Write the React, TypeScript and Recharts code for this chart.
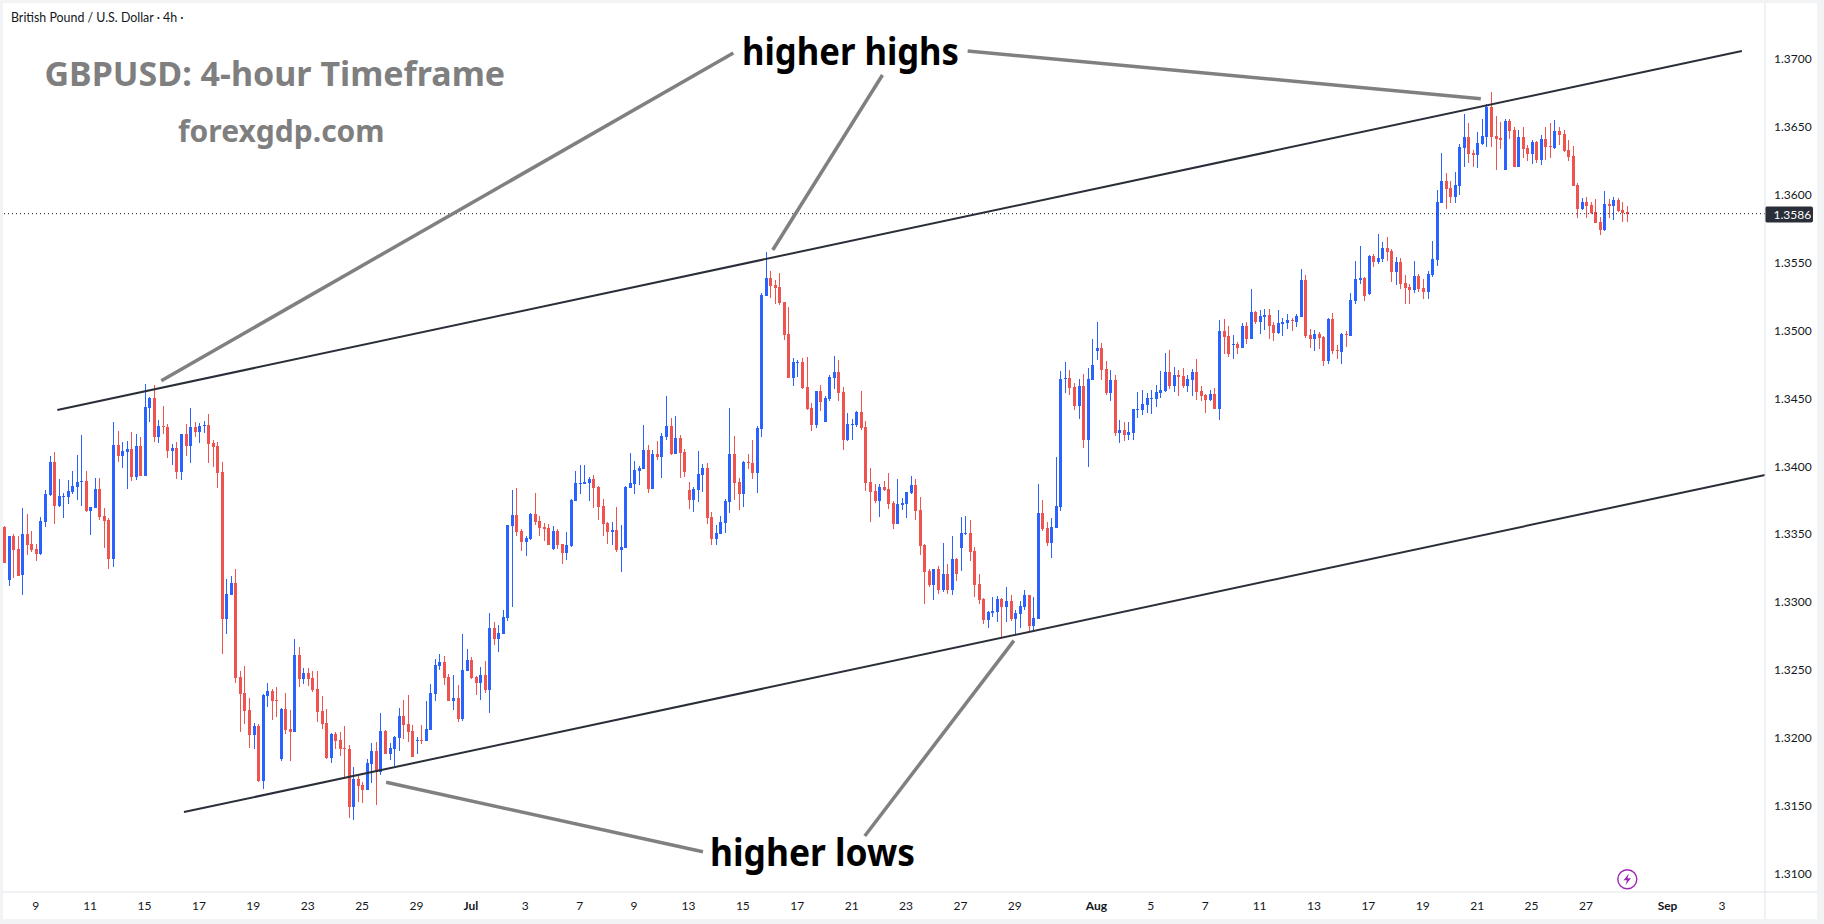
import { Bar, ComposedChart, ReferenceLine, XAxis, YAxis } from 'recharts'

const opens = [
  1.33558, 1.33166, 1.33489, 1.33394, 1.33203, 1.33504, 1.33431, 1.33394, 1.33357, 1.33592,
  1.33791, 1.34034, 1.3371, 1.33776, 1.33776, 1.33813, 1.3385, 1.33889, 1.33894, 1.33673,
  1.33695, 1.33835, 1.33637, 1.33607, 1.3332, 1.34159, 1.34078, 1.34107, 1.34129, 1.33923,
  1.34152, 1.33931, 1.34431, 1.34505, 1.34218, 1.34299, 1.34291, 1.34115, 1.34137, 1.3396,
  1.3424, 1.34152, 1.34291, 1.34254, 1.34299, 1.34306, 1.34174, 1.34152, 1.3396, 1.32879,
  1.33055, 1.33144, 1.32452, 1.32335, 1.3221, 1.32026, 1.32092, 1.31687, 1.32313, 1.32349,
  1.32283, 1.31849, 1.32217, 1.3207, 1.32048, 1.32614, 1.32438, 1.32482, 1.32445, 1.32364,
  1.32202, 1.32114, 1.31856, 1.32033, 1.31989, 1.3193, 1.31923, 1.31496, 1.31702, 1.31658,
  1.31621, 1.31812, 1.31908, 1.31753, 1.32055, 1.31886, 1.31923, 1.32004, 1.32165, 1.32107,
  1.32055, 1.31982, 1.31989, 1.31982, 1.32062, 1.32327, 1.32533, 1.32563, 1.32452, 1.32278,
  1.32297, 1.32143, 1.32496, 1.32577, 1.32452, 1.32408, 1.32467, 1.32356, 1.32812, 1.32731,
  1.32768, 1.32886, 1.33563, 1.33644, 1.33526, 1.33445, 1.33465, 1.33651, 1.33599, 1.33555,
  1.33548, 1.33393, 1.33526, 1.3343, 1.33364, 1.33416, 1.33747, 1.33872, 1.33872, 1.33879,
  1.33908, 1.3385, 1.3371, 1.33585, 1.33519, 1.33533, 1.33386, 1.33401, 1.33842, 1.33872,
  1.33967, 1.33982, 1.34122, 1.33835, 1.34092, 1.3407, 1.34217, 1.34298, 1.34092, 1.3421,
  1.34107, 1.33827, 1.33754, 1.33827, 1.33938, 1.33989, 1.33629, 1.33467, 1.33504, 1.33585,
  1.33739, 1.34092, 1.33886, 1.33798, 1.34033, 1.34026, 1.33952, 1.34276, 1.35255, 1.35387,
  1.35335, 1.35321, 1.3521, 1.34975, 1.34651, 1.34762, 1.34769, 1.34585, 1.34431, 1.34306,
  1.34556, 1.34328, 1.34497, 1.34651, 1.34695, 1.34548, 1.34195, 1.34306, 1.34306, 1.34401,
  1.34291, 1.33886, 1.3382, 1.33747, 1.3385, 1.33835, 1.33732, 1.33577, 1.33717, 1.33724,
  1.33805, 1.33864, 1.3368, 1.33423, 1.33232, 1.33129, 1.33246, 1.33092, 1.3321, 1.33092,
  1.3332, 1.33401, 1.33504, 1.33511, 1.33379, 1.33136, 1.33026, 1.32871, 1.32923, 1.3293,
  1.33026, 1.32967, 1.33011, 1.32878, 1.32915, 1.32967, 1.33055, 1.32827, 1.32878, 1.33658,
  1.33548, 1.33438, 1.33548, 1.33702, 1.34644, 1.34651, 1.34585, 1.34445, 1.34592, 1.34195,
  1.34637, 1.3485, 1.34872, 1.34718, 1.34541, 1.34637, 1.34247, 1.34269, 1.34232, 1.34247,
  1.34416, 1.34416, 1.34453, 1.34497, 1.34497, 1.34541, 1.34556, 1.34695, 1.34592, 1.34673,
  1.34666, 1.34592, 1.34637, 1.34695, 1.34556, 1.34526, 1.34489, 1.34534, 1.34423, 1.34997,
  1.3496, 1.34894, 1.34901, 1.34872, 1.35034, 1.34938, 1.35137, 1.35063, 1.351, 1.35115,
  1.35041, 1.34982, 1.35049, 1.35056, 1.35078, 1.35063, 1.351, 1.35372, 1.34968, 1.34938,
  1.34975, 1.34953, 1.34776, 1.35085, 1.34857, 1.34843, 1.34975, 1.34961, 1.35218, 1.35373,
  1.35388, 1.3527, 1.35549, 1.35505, 1.35527, 1.35608, 1.35586, 1.35432, 1.35505, 1.35351,
  1.35321, 1.35299, 1.35402, 1.35314, 1.35284, 1.3541, 1.3552, 1.35939, 1.36101, 1.3605,
  1.35983, 1.36064, 1.36344, 1.36425, 1.36307, 1.36292, 1.36373, 1.36425, 1.36645, 1.36432,
  1.36417, 1.36182, 1.36542, 1.36476, 1.36204, 1.36425, 1.36344, 1.363, 1.36388, 1.36256,
  1.3641, 1.36359, 1.36344, 1.36469, 1.36447, 1.36329, 1.36285, 1.36072, 1.35895, 1.35947,
  1.35924, 1.35873, 1.35799, 1.35741, 1.35932, 1.35917, 1.35961, 1.35888, 1.35873,
]

const closes = [
  1.33293, 1.33489, 1.33386, 1.33198, 1.33504, 1.33423, 1.33386, 1.33357, 1.336, 1.33798,
  1.34034, 1.3371, 1.33784, 1.33784, 1.3382, 1.33857, 1.33887, 1.33894, 1.33673, 1.33703,
  1.33835, 1.33629, 1.336, 1.3332, 1.34159, 1.34078, 1.34115, 1.34129, 1.33923, 1.34152,
  1.33931, 1.34438, 1.34505, 1.34218, 1.34299, 1.34291, 1.34115, 1.34137, 1.3396, 1.3424,
  1.34152, 1.34291, 1.34254, 1.34299, 1.34306, 1.34166, 1.34144, 1.33953, 1.32879, 1.33063,
  1.33144, 1.32445, 1.32327, 1.32202, 1.32026, 1.32092, 1.31687, 1.3232, 1.32349, 1.32276,
  1.32276, 1.32217, 1.32062, 1.32048, 1.32614, 1.32438, 1.32482, 1.32438, 1.32357, 1.32195,
  1.32107, 1.31856, 1.32033, 1.31982, 1.31923, 1.31923, 1.31496, 1.31702, 1.3165, 1.31621,
  1.3182, 1.31908, 1.31753, 1.32055, 1.31886, 1.3193, 1.32011, 1.32165, 1.32099, 1.32048,
  1.31864, 1.31989, 1.31982, 1.3207, 1.32335, 1.32541, 1.32563, 1.32445, 1.32276, 1.32297,
  1.32143, 1.32503, 1.32577, 1.32442, 1.32408, 1.32467, 1.32356, 1.32812, 1.32731, 1.32776,
  1.32893, 1.3357, 1.33644, 1.33518, 1.33445, 1.33474, 1.33651, 1.33592, 1.33548, 1.3354,
  1.33423, 1.33526, 1.33423, 1.33364, 1.33423, 1.33754, 1.33879, 1.33879, 1.33884, 1.33908,
  1.33842, 1.33702, 1.33577, 1.33519, 1.33533, 1.33386, 1.33408, 1.3385, 1.33879, 1.33975,
  1.33989, 1.34122, 1.33835, 1.34092, 1.3407, 1.34225, 1.34298, 1.34092, 1.3421, 1.341,
  1.3396, 1.33754, 1.33835, 1.33945, 1.33989, 1.33621, 1.33467, 1.33511, 1.33592, 1.33747,
  1.34092, 1.33879, 1.33798, 1.34033, 1.34026, 1.33952, 1.34284, 1.35262, 1.35387, 1.35328,
  1.35313, 1.35203, 1.34968, 1.34651, 1.34769, 1.34769, 1.34578, 1.34423, 1.34306, 1.34556,
  1.34475, 1.34504, 1.34659, 1.34695, 1.34541, 1.34195, 1.34313, 1.34313, 1.34401, 1.34284,
  1.33879, 1.33813, 1.33747, 1.3385, 1.33827, 1.33724, 1.33577, 1.33724, 1.33729, 1.33813,
  1.33864, 1.33673, 1.33416, 1.33224, 1.33129, 1.33246, 1.33092, 1.3321, 1.33092, 1.3332,
  1.3321, 1.33511, 1.33511, 1.33371, 1.33129, 1.33018, 1.32871, 1.3293, 1.32937, 1.33026,
  1.32967, 1.33011, 1.32878, 1.32923, 1.32974, 1.33055, 1.32827, 1.32886, 1.33658, 1.3354,
  1.33438, 1.33555, 1.3371, 1.34644, 1.34651, 1.34578, 1.34445, 1.34592, 1.34195, 1.34644,
  1.34747, 1.34872, 1.3471, 1.34541, 1.34637, 1.34247, 1.34269, 1.34232, 1.34254, 1.34423,
  1.34423, 1.3446, 1.34504, 1.34504, 1.34548, 1.34563, 1.34695, 1.34592, 1.34673, 1.34659,
  1.34592, 1.34644, 1.34695, 1.34548, 1.34519, 1.34489, 1.34534, 1.34423, 1.34997, 1.34953,
  1.34828, 1.34901, 1.34872, 1.35034, 1.34938, 1.35137, 1.35063, 1.35107, 1.35115, 1.35034,
  1.34982, 1.35056, 1.35063, 1.35078, 1.35071, 1.35107, 1.35372, 1.3496, 1.34938, 1.34975,
  1.34946, 1.34776, 1.35085, 1.3485, 1.3485, 1.34975, 1.34968, 1.35226, 1.3538, 1.35388,
  1.35255, 1.35549, 1.35505, 1.35535, 1.35608, 1.35579, 1.35432, 1.35505, 1.35343, 1.35314,
  1.35299, 1.35402, 1.35307, 1.35284, 1.35417, 1.35527, 1.35947, 1.36101, 1.36042, 1.35983,
  1.36072, 1.36351, 1.36425, 1.363, 1.36292, 1.36381, 1.36432, 1.36645, 1.36425, 1.3641,
  1.36403, 1.36542, 1.36469, 1.36204, 1.36425, 1.36336, 1.363, 1.36388, 1.36256, 1.3641,
  1.36351, 1.36351, 1.36469, 1.36439, 1.36322, 1.36278, 1.36064, 1.35895, 1.35947, 1.35917,
  1.35866, 1.35792, 1.35741, 1.35932, 1.35917, 1.35961, 1.3588, 1.35866, 1.35856,
]

const highs = [
  1.33566, 1.33489, 1.33504, 1.33489, 1.33695, 1.33651, 1.33526, 1.33431, 1.33629, 1.33828,
  1.34078, 1.34107, 1.33909, 1.33806, 1.33901, 1.33968, 1.34085, 1.34232, 1.33968, 1.33703,
  1.33916, 1.33916, 1.33695, 1.33622, 1.34328, 1.34262, 1.34181, 1.34188, 1.34254, 1.3424,
  1.34218, 1.34608, 1.34512, 1.346, 1.34343, 1.34446, 1.34313, 1.34166, 1.34181, 1.3424,
  1.34313, 1.34431, 1.34328, 1.34321, 1.34335, 1.34387, 1.34196, 1.34181, 1.34034, 1.33173,
  1.33195, 1.33247, 1.32496, 1.32533, 1.32298, 1.32114, 1.32107, 1.32327, 1.32408, 1.32364,
  1.32379, 1.32224, 1.32335, 1.3221, 1.32732, 1.32673, 1.32518, 1.32518, 1.32496, 1.32496,
  1.32313, 1.32217, 1.3204, 1.32048, 1.32048, 1.32092, 1.31952, 1.3179, 1.31724, 1.3168,
  1.31849, 1.31967, 1.31974, 1.32187, 1.32062, 1.31967, 1.32018, 1.32224, 1.32283, 1.3232,
  1.32099, 1.32011, 1.32099, 1.32276, 1.32401, 1.32585, 1.32621, 1.32607, 1.32474, 1.32467,
  1.32393, 1.32768, 1.32658, 1.32599, 1.32459, 1.32525, 1.3257, 1.32923, 1.32856, 1.32834,
  1.32945, 1.3357, 1.33827, 1.33842, 1.3354, 1.33489, 1.33658, 1.33805, 1.33636, 1.33585,
  1.33577, 1.33563, 1.3354, 1.3343, 1.33519, 1.33761, 1.33967, 1.34011, 1.34011, 1.33923,
  1.33938, 1.33857, 1.33761, 1.33592, 1.33592, 1.33702, 1.3357, 1.33857, 1.341, 1.34041,
  1.34004, 1.34306, 1.34158, 1.34122, 1.34188, 1.34247, 1.34519, 1.34357, 1.34372, 1.34232,
  1.34129, 1.33886, 1.3385, 1.34114, 1.34019, 1.34026, 1.33666, 1.3357, 1.33636, 1.33761,
  1.34431, 1.34225, 1.33916, 1.34041, 1.34092, 1.34195, 1.34298, 1.35277, 1.35578, 1.35438,
  1.35372, 1.35424, 1.3521, 1.35174, 1.34798, 1.34784, 1.34798, 1.34806, 1.34467, 1.34556,
  1.346, 1.34519, 1.34673, 1.34813, 1.34784, 1.34585, 1.34394, 1.3435, 1.34409, 1.34556,
  1.34335, 1.33989, 1.33872, 1.33872, 1.33894, 1.33952, 1.33747, 1.33908, 1.33769, 1.33813,
  1.3393, 1.33908, 1.33776, 1.3343, 1.33246, 1.33246, 1.33268, 1.33438, 1.33283, 1.33489,
  1.33327, 1.33629, 1.33636, 1.33607, 1.33408, 1.3321, 1.33033, 1.32937, 1.3304, 1.33048,
  1.33033, 1.33114, 1.33055, 1.32945, 1.33011, 1.33092, 1.33055, 1.3304, 1.33872, 1.33754,
  1.33592, 1.33621, 1.3407, 1.34703, 1.34769, 1.3471, 1.34615, 1.34644, 1.34681, 1.34725,
  1.34938, 1.35063, 1.34909, 1.34776, 1.3471, 1.34673, 1.34342, 1.34328, 1.34328, 1.34423,
  1.34548, 1.34563, 1.34541, 1.34563, 1.346, 1.34703, 1.34835, 1.34857, 1.34732, 1.3471,
  1.34725, 1.34673, 1.34718, 1.34791, 1.34592, 1.34534, 1.34563, 1.34578, 1.35078, 1.35085,
  1.35034, 1.34968, 1.34916, 1.35056, 1.35063, 1.35306, 1.35144, 1.35152, 1.35159, 1.35159,
  1.35063, 1.35152, 1.35093, 1.35122, 1.35093, 1.35122, 1.35453, 1.35409, 1.35012, 1.35004,
  1.3499, 1.3496, 1.35093, 1.35129, 1.34894, 1.34982, 1.34997, 1.35275, 1.35513, 1.35623,
  1.35395, 1.35557, 1.35564, 1.35711, 1.35652, 1.35689, 1.35601, 1.35542, 1.35535, 1.3541,
  1.35343, 1.35513, 1.35417, 1.3538, 1.35439, 1.3566, 1.36035, 1.36307, 1.3616, 1.36101,
  1.36167, 1.36373, 1.36594, 1.36528, 1.36329, 1.36461, 1.36557, 1.36667, 1.36756, 1.36579,
  1.36535, 1.36557, 1.36557, 1.36498, 1.36476, 1.36498, 1.36366, 1.36403, 1.36395, 1.36439,
  1.36498, 1.36528, 1.3655, 1.36498, 1.36476, 1.36403, 1.36359, 1.36086, 1.35976, 1.35983,
  1.35947, 1.35969, 1.35836, 1.36027, 1.35969, 1.35983, 1.35976, 1.35947, 1.35917,
]

const lows = [
  1.33293, 1.33122, 1.3318, 1.33198, 1.33055, 1.3335, 1.33372, 1.33306, 1.3335, 1.33556,
  1.33784, 1.33578, 1.33703, 1.33622, 1.33725, 1.33798, 1.33754, 1.3371, 1.33666, 1.33497,
  1.33695, 1.33607, 1.33401, 1.33247, 1.33261, 1.34034, 1.3399, 1.33835, 1.33894, 1.33901,
  1.33931, 1.33931, 1.34328, 1.34181, 1.34174, 1.3424, 1.34063, 1.34012, 1.33909, 1.33901,
  1.34078, 1.34026, 1.34218, 1.34174, 1.34247, 1.34026, 1.33997, 1.33843, 1.32621, 1.32769,
  1.33055, 1.32408, 1.32048, 1.32107, 1.3193, 1.31923, 1.3168, 1.31628, 1.32232, 1.32136,
  1.32158, 1.31834, 1.32033, 1.31834, 1.32048, 1.32379, 1.32401, 1.32386, 1.32342, 1.32121,
  1.3207, 1.31849, 1.3182, 1.31923, 1.31871, 1.31709, 1.31415, 1.314, 1.31533, 1.31525,
  1.31621, 1.31673, 1.31511, 1.31731, 1.31886, 1.31842, 1.31798, 1.31908, 1.31996, 1.31974,
  1.31864, 1.31886, 1.31959, 1.31982, 1.32062, 1.32276, 1.32504, 1.32393, 1.32276, 1.32209,
  1.32121, 1.32131, 1.32496, 1.32435, 1.32319, 1.32283, 1.32334, 1.32187, 1.32687, 1.32636,
  1.32768, 1.32864, 1.32967, 1.33489, 1.33379, 1.33342, 1.3346, 1.3357, 1.33489, 1.33452,
  1.33423, 1.33386, 1.33393, 1.33283, 1.33313, 1.33408, 1.33747, 1.33798, 1.33872, 1.33747,
  1.33695, 1.33607, 1.33489, 1.3343, 1.33423, 1.33371, 1.33224, 1.33401, 1.33842, 1.33798,
  1.33864, 1.33982, 1.33805, 1.33835, 1.34048, 1.33916, 1.34195, 1.34085, 1.34092, 1.33916,
  1.33923, 1.33688, 1.33666, 1.33739, 1.33813, 1.33577, 1.33423, 1.33423, 1.33504, 1.33511,
  1.33658, 1.33754, 1.3368, 1.33702, 1.33982, 1.33908, 1.33805, 1.34217, 1.35255, 1.3524,
  1.35196, 1.35188, 1.34931, 1.34651, 1.34592, 1.34659, 1.3457, 1.34416, 1.34261, 1.34284,
  1.34409, 1.34328, 1.34482, 1.3457, 1.34482, 1.34122, 1.34188, 1.34195, 1.34291, 1.34269,
  1.3382, 1.33592, 1.33732, 1.33629, 1.3382, 1.33688, 1.3354, 1.33577, 1.3368, 1.33621,
  1.33798, 1.33607, 1.33349, 1.32989, 1.33114, 1.33018, 1.33062, 1.33077, 1.33062, 1.33055,
  1.33158, 1.33232, 1.33496, 1.33305, 1.3304, 1.32989, 1.32842, 1.32812, 1.32893, 1.32856,
  1.32739, 1.32856, 1.32864, 1.32761, 1.32812, 1.32945, 1.32783, 1.32798, 1.32878, 1.33526,
  1.33416, 1.33327, 1.33548, 1.33673, 1.34541, 1.34526, 1.34416, 1.3435, 1.34136, 1.33997,
  1.34637, 1.34784, 1.34637, 1.34526, 1.34482, 1.34225, 1.34173, 1.34188, 1.34195, 1.34195,
  1.34357, 1.34379, 1.34394, 1.34386, 1.34438, 1.34504, 1.34548, 1.3457, 1.34548, 1.34519,
  1.34578, 1.34548, 1.34519, 1.34489, 1.34482, 1.34394, 1.34482, 1.34423, 1.34342, 1.34828,
  1.34806, 1.34791, 1.34828, 1.34872, 1.34901, 1.34938, 1.35049, 1.34975, 1.35004, 1.34938,
  1.34923, 1.34975, 1.3496, 1.35012, 1.34997, 1.35026, 1.351, 1.34946, 1.34872, 1.3485,
  1.34865, 1.3474, 1.34754, 1.34828, 1.34791, 1.34754, 1.34879, 1.34961, 1.35196, 1.35343,
  1.35218, 1.35262, 1.35468, 1.3549, 1.35505, 1.35513, 1.35358, 1.35336, 1.35307, 1.35196,
  1.35196, 1.35277, 1.35284, 1.35233, 1.35233, 1.35395, 1.35476, 1.35939, 1.35895, 1.35939,
  1.35939, 1.35998, 1.36204, 1.36233, 1.36204, 1.36197, 1.36366, 1.36351, 1.36351, 1.36182,
  1.36336, 1.36182, 1.3641, 1.36204, 1.36204, 1.3627, 1.36248, 1.36226, 1.36233, 1.36219,
  1.36256, 1.3627, 1.36336, 1.36366, 1.36314, 1.36248, 1.36064, 1.35829, 1.35888, 1.35829,
  1.35858, 1.35792, 1.35704, 1.35733, 1.35829, 1.35814, 1.35873, 1.35799, 1.35799,
]

const tickSlots = [
  7, 19, 31, 43, 55, 67, 79, 91, 103, 115, 127, 139, 151, 163, 175, 187,
  199, 211, 223, 241, 253, 265, 277, 289, 301, 313, 325, 337, 349, 367, 379,
]
const tickLabels = [
  '9', '11', '15', '17', '19', '23', '25', '29', 'Jul', '3', '7', '9', '13', '15', '17', '21',
  '23', '27', '29', 'Aug', '5', '7', '11', '13', '17', '19', '21', '25', '27', 'Sep', '3',
]
const monthLabels = ['Jul', 'Aug', 'Sep']
const priceTicks = [1.31, 1.315, 1.32, 1.325, 1.33, 1.335, 1.34, 1.345, 1.35, 1.355, 1.36, 1.365, 1.37]
const lastPrice = 1.3586

// channel lines, [slot, price] at each end
const channelLines = [
  [[11.76, 1.34416], [383.4, 1.37057]],
  [[39.7, 1.31458], [388.5, 1.33938]],
]
// grey pointers from the captions to the swing points
const pointerLines = [
  [[34.7, 1.34631], [160.9, 1.37042]],
  [[169.6, 1.35593], [193.8, 1.3688]],
  [[212.6, 1.37057], [325.8, 1.36706]],
  [[84.3, 1.31677], [154.2, 1.31166]],
  [[189.9, 1.31282], [222.8, 1.32719]],
]

const chartData = opens.map((open, i) => ({
  slot: i,
  open,
  close: closes[i],
  high: highs[i],
  low: lows[i],
  range: [lows[i], highs[i]],
}))

const UP = '#2962ff'
const DOWN = '#ef5350'
const AXIS_LINE = '#e0e3eb'
const TEXT = '#131722'
const UI_FONT = 'Lato, "Noto Sans", sans-serif'
const NOTE_FONT = '"Noto Sans", "Open Sans", sans-serif'

function Candle(props: any) {
  const { x, y, width, height, payload } = props
  const { open, close, high, low } = payload
  const cx = Math.round(x + width / 2)
  const perUnit = height / (high - low)
  const top = Math.round(y + (high - Math.max(open, close)) * perUnit)
  const bottom = Math.round(y + (high - Math.min(open, close)) * perUnit)
  const color = close >= open ? UP : DOWN
  return (
    <g shapeRendering="crispEdges">
      <rect x={cx} y={y} width={1} height={Math.max(height, 1)} fill={color} />
      <rect x={cx - 1} y={top} width={3} height={Math.max(bottom - top, 1)} fill={color} />
    </g>
  )
}

function DateTick(props: any) {
  const { x, y, payload } = props
  const label = tickLabels[tickSlots.indexOf(payload.value)]
  return (
    <text
      x={x}
      y={y}
      textAnchor="middle"
      fontFamily={UI_FONT}
      fontSize={12}
      fontWeight={monthLabels.includes(label) ? 700 : 400}
      fill={TEXT}
    >
      {label}
    </text>
  )
}

function PriceTick(props: any) {
  const { x, y, payload } = props
  return (
    <text x={x} y={y + 4} textAnchor="start" fontFamily={UI_FONT} fontSize={12} fill={TEXT}>
      {payload.value.toFixed(4)}
    </text>
  )
}

function toSegment(line: number[][]) {
  return line.map(([x, y]) => ({ x, y }))
}

export default function App() {
  return (
    <div
      style={{
        position: 'absolute',
        left: 0,
        top: 0,
        width: 1824,
        height: 924,
        background: '#f2f3f5',
        overflow: 'hidden',
      }}
    >
      <div style={{ position: 'absolute', left: 3, top: 3, width: 1814, height: 916, background: '#fff' }} />
      <div style={{ position: 'absolute', left: 0, top: 0 }}>
        <ComposedChart
          width={1824}
          height={924}
          data={chartData}
          margin={{ top: 3, right: 6, bottom: 5, left: 3 }}
        >
          <XAxis
            dataKey="slot"
            type="number"
            domain={[-0.22, 388.5]}
            allowDataOverflow
            ticks={tickSlots}
            interval={0}
            height={27}
            tick={<DateTick />}
            tickLine={false}
            tickSize={0}
            tickMargin={18}
            axisLine={{ stroke: AXIS_LINE }}
          />
          <YAxis
            orientation="right"
            type="number"
            domain={[1.3087, 1.3741]}
            allowDataOverflow
            ticks={priceTicks}
            interval={0}
            width={53}
            tick={<PriceTick />}
            tickLine={false}
            tickSize={0}
            tickMargin={9}
            axisLine={{ stroke: AXIS_LINE }}
          />
          <line x1={1765} y1={892} x2={1817} y2={892} stroke={AXIS_LINE} />
          <line x1={1765} y1={892} x2={1765} y2={919} stroke={AXIS_LINE} />
          <ReferenceLine y={lastPrice} stroke={TEXT} strokeDasharray="1 3" />
          <Bar dataKey="range" barSize={3} shape={<Candle />} isAnimationActive={false} />
          {channelLines.map((line, i) => (
            <ReferenceLine key={i} segment={toSegment(line)} stroke="#2a2e39" strokeWidth={2} />
          ))}
          {pointerLines.map((line, i) => (
            <ReferenceLine key={i} segment={toSegment(line)} stroke="#808080" strokeWidth={3.5} />
          ))}
          <rect x={1765} y={206.5} width={48} height={16} rx={2} fill="#2a2e39" />
          <text x={1773.5} y={219} fontFamily={UI_FONT} fontSize={12} fill="#fff">
            1.3586
          </text>
          <circle cx={1627.3} cy={879.3} r={9.5} fill="#fff" stroke="#9c27b0" strokeWidth={1.4} />
          <path d="M1629 873.5 L1623.5 880.3 L1627 880.3 L1625.5 885 L1631 878.2 L1627.5 878.2 Z" fill="#9c27b0" />
          <text x={11} y={22} fontFamily={UI_FONT} fontSize={12.4} fill={TEXT}>
            British Pound / U.S. Dollar · 4h ·
          </text>
          <text x={44.5} y={86} fontFamily={NOTE_FONT} fontSize={34} fontWeight={700} fill="#7f7f7f">
            GBPUSD: 4-hour Timeframe
          </text>
          <text x={178} y={142} fontFamily={NOTE_FONT} fontSize={30} fontWeight={700} fill="#7f7f7f">
            forexgdp.com
          </text>
          <text
            x={742}
            y={65}
            fontFamily={NOTE_FONT}
            fontSize={37}
            fontWeight={700}
            fill="#000"
            textLength={217}
            lengthAdjust="spacingAndGlyphs"
          >
            higher highs
          </text>
          <text
            x={710}
            y={866}
            fontFamily={NOTE_FONT}
            fontSize={37}
            fontWeight={700}
            fill="#000"
            textLength={205}
            lengthAdjust="spacingAndGlyphs"
          >
            higher lows
          </text>
        </ComposedChart>
      </div>
    </div>
  )
}
